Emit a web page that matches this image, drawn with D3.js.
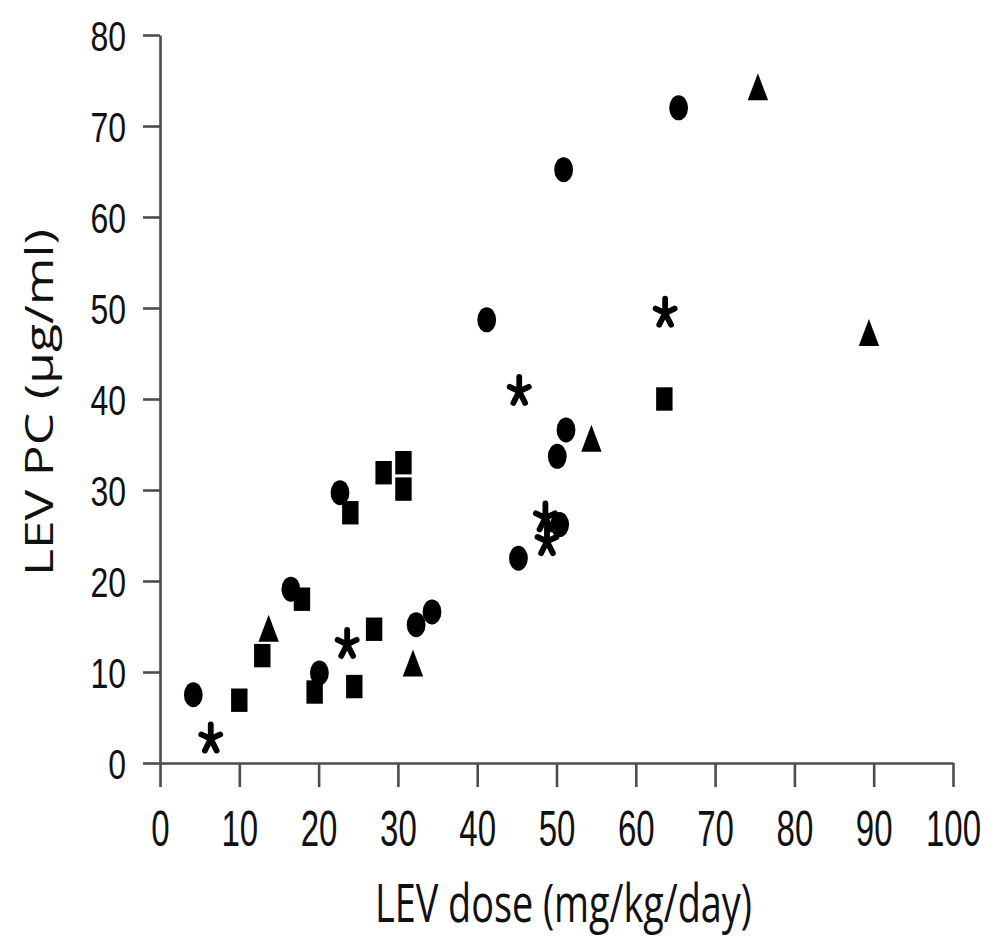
<!DOCTYPE html>
<html>
<head>
<meta charset="utf-8">
<script src="https://cdn.jsdelivr.net/npm/d3@7"></script>
<style>
  html, body { margin: 0; padding: 0; background: #fff; }
  svg { display: block; }
</style>
</head>
<body>
<svg id="chart" width="1000" height="939"></svg>
<script>
// ---- Data ----
const xTicks = [0, 10, 20, 30, 40, 50, 60, 70, 80, 90, 100];
const yTicks = [0, 10, 20, 30, 40, 50, 60, 70, 80];
const xLabel = "LEV dose (mg/kg/day)";
const yLabel = "LEV PC (µg/ml)";

// [dose, concentration]
const circles = [
  [4.2, 7.5], [16.5, 19.1], [20.1, 9.9], [22.7, 29.7], [32.3, 15.2], [34.3, 16.6],
  [41.2, 48.7], [45.2, 22.5], [50.1, 33.7], [51.2, 36.6], [50.4, 26.2], [50.9, 65.2],
  [65.4, 72.0]
];
const squares = [
  [10.0, 6.9], [12.9, 11.8], [17.9, 18.0], [19.5, 7.8], [24.0, 27.5], [24.5, 8.4],
  [27.0, 14.7], [28.2, 31.9], [30.7, 33.0], [30.7, 30.1], [63.6, 40.0]
];
const triangles = [
  [13.7, 14.8], [31.9, 11.0], [54.4, 35.7], [75.4, 74.3], [89.4, 47.3]
];
const asterisks = [
  [6.4, 2.8], [23.6, 13.2], [45.3, 41.0], [48.6, 27.1], [48.8, 24.5], [63.7, 49.6]
];

// ---- Layout ----
const svg = d3.select("#chart");
const x = d3.scaleLinear().domain([0, 100]).range([160, 953]);
const y = d3.scaleLinear().domain([0, 80]).range([763, 35]);
const axisColor = "#4d4d4d";

// Y axis
const gy = svg.append("g").attr("transform", `translate(${x(0)},0)`)
  .call(d3.axisLeft(y).tickValues(yTicks).tickSize(17).tickSizeOuter(0).tickFormat(d3.format("d")));
// X axis
const gx = svg.append("g").attr("transform", `translate(0,${y(0)})`)
  .call(d3.axisBottom(x).tickValues(xTicks).tickSize(24).tickSizeOuter(0).tickFormat(d3.format("d")));

[gx, gy].forEach(g => {
  g.select(".domain").attr("stroke", axisColor).attr("stroke-width", 2.6);
  g.selectAll(".tick line").attr("stroke", axisColor).attr("stroke-width", 2.6);
});

const tickFont = "'Liberation Sans', Arial, sans-serif";
gx.selectAll(".tick text")
  .attr("y", null).attr("dy", null)
  .attr("font-family", tickFont).attr("font-size", 33).attr("fill", "#111")
  .attr("text-anchor", "middle")
  .attr("transform", `translate(0,83) scale(1,${36 / (33 * 0.716)})`);

gy.selectAll(".tick text")
  .attr("x", null).attr("dy", null)
  .attr("font-family", tickFont).attr("font-size", 32).attr("fill", "#111")
  .attr("text-anchor", "end")
  .attr("transform", `translate(-34,15) scale(1,${30 / (32 * 0.716)})`);

// Axis titles (fitted to the reference's width and cap height)
const titleFont = "'Open Sans', 'Noto Sans', sans-serif";
function fitted(g, str, len, cap) {
  const t = g.append("text").text(str)
    .attr("font-family", titleFont).attr("font-size", 20).attr("fill", "#111");
  const w = t.node().getComputedTextLength();
  t.attr("transform", `scale(${len / w},${cap / (20 * 0.714)})`);
  return t;
}
const gxl = svg.append("g").attr("transform", "translate(375,922)");
fitted(gxl, xLabel, 377, 38);
const gyl = svg.append("g").attr("transform", "translate(53,576) rotate(-90)");
fitted(gyl, yLabel, 347, 28);

// ---- Markers ----
const marks = svg.append("g").attr("fill", "#000");

marks.selectAll("ellipse.c").data(circles).join("ellipse")
  .attr("class", "c")
  .attr("cx", d => x(d[0])).attr("cy", d => y(d[1]))
  .attr("rx", 9.4).attr("ry", 12.5);

marks.selectAll("rect.s").data(squares).join("rect")
  .attr("class", "s")
  .attr("x", d => x(d[0]) - 8.2).attr("y", d => y(d[1]) - 11.7)
  .attr("width", 16.4).attr("height", 23.4);

const triPath = "M0,-13.5L10.2,13.5L-10.2,13.5Z";
marks.selectAll("path.t").data(triangles).join("path")
  .attr("class", "t")
  .attr("d", triPath)
  .attr("transform", d => `translate(${x(d[0])},${y(d[1])})`);

// five-armed asterisk
const Lx = 10, Ly = 14.4;
const astPath = d3.range(5).map(i => {
  const a = (-90 + i * 72) * Math.PI / 180;
  return `M0,0L${(Lx * Math.cos(a)).toFixed(2)},${(Ly * Math.sin(a)).toFixed(2)}`;
}).join("");
marks.selectAll("path.a").data(asterisks).join("path")
  .attr("class", "a")
  .attr("d", astPath)
  .attr("fill", "none").attr("stroke", "#000")
  .attr("stroke-width", 5.8).attr("stroke-linecap", "round").attr("stroke-linejoin", "round")
  .attr("transform", d => `translate(${x(d[0])},${y(d[1]) + 1.4})`);
</script>
</body>
</html>
